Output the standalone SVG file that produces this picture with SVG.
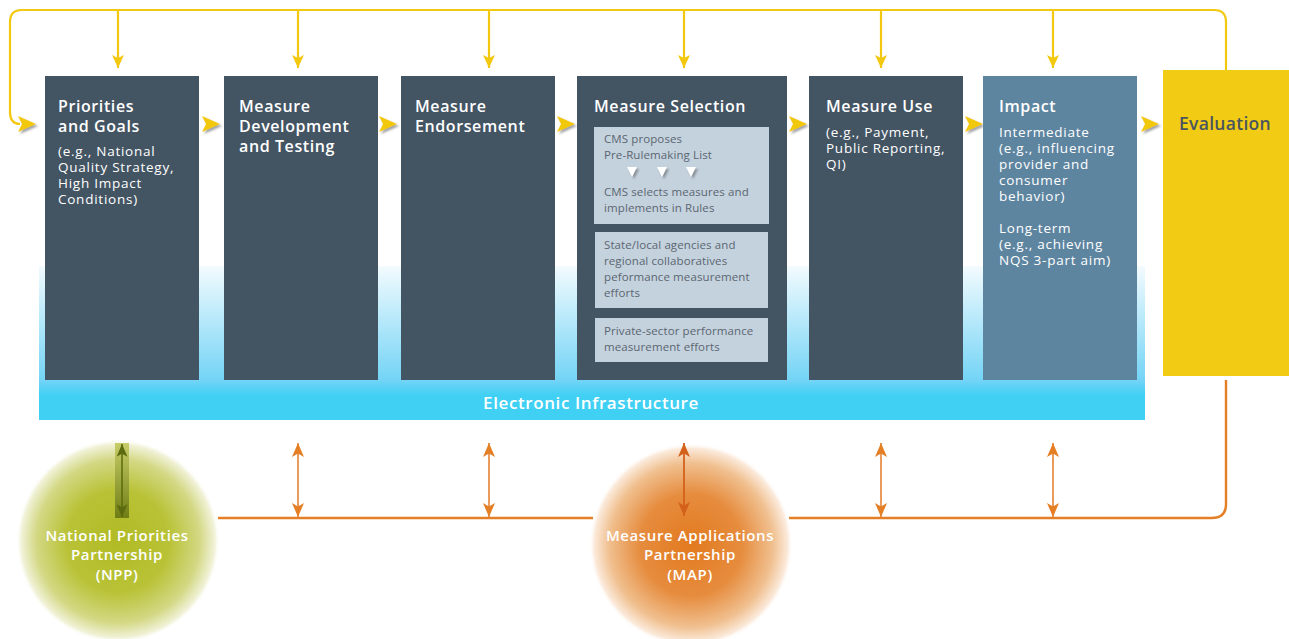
<svg xmlns="http://www.w3.org/2000/svg" width="1289" height="639" viewBox="0 0 1289 639">
  <defs>
    <style>
      text { font-family: "Open Sans", "Liberation Sans", sans-serif; }
      .box { fill: #435463; }
      .title { fill: #ffffff; font-size: 16px; font-weight: 600; letter-spacing: 0.6px; }
      .body { fill: #ffffff; font-size: 13.5px; letter-spacing: 0.75px; }
      .sub { fill: #c4d2de; }
      .subtxt { fill: #5b6670; font-size: 11.5px; letter-spacing: 0.1px; }
      .yline { fill: none; stroke: #f2c811; stroke-width: 2.2; }
      .oline { fill: none; stroke: #e47f25; stroke-width: 2.4; }
      .odbl { stroke: #e8914a; stroke-width: 1.8; marker-start: url(#oHead); marker-end: url(#oHead); }
      .chev { fill: #f2c811; filter: url(#shadow); }
      .ptxt { fill: #ffffff; font-size: 15px; font-weight: 600; letter-spacing: 0.6px; text-anchor: middle; }
    </style>
    <!-- arrowheads drawn pointing along +x so orient="auto" follows the line -->
    <marker id="yHead" viewBox="0 0 13 12" refX="13" refY="6" markerWidth="13" markerHeight="12" markerUnits="userSpaceOnUse" orient="auto">
      <path d="M0,0 L13,6 L0,12 L3,6 Z" fill="#f2c811"/>
    </marker>
    <marker id="oHead" viewBox="0 0 14 12" refX="14" refY="6" markerWidth="14" markerHeight="12" markerUnits="userSpaceOnUse" orient="auto-start-reverse">
      <path d="M0,0 L14,6 L0,12 L3.5,6 Z" fill="#e47f25"/>
    </marker>
    <marker id="mHead" viewBox="0 0 14 12" refX="14" refY="6" markerWidth="14" markerHeight="12" markerUnits="userSpaceOnUse" orient="auto-start-reverse">
      <path d="M0,0 L14,6 L0,12 L3.5,6 Z" fill="#d4611a"/>
    </marker>
    <marker id="gHead" viewBox="0 0 14 12" refX="14" refY="6" markerWidth="13" markerHeight="11" markerUnits="userSpaceOnUse" orient="auto-start-reverse">
      <path d="M0,0 L14,6 L0,12 L3.5,6 Z" fill="#5b6a0e"/>
    </marker>
    <filter id="shadow" x="-30%" y="-30%" width="170%" height="170%">
      <feDropShadow dx="2" dy="2" stdDeviation="1.2" flood-color="#555" flood-opacity="0.55"/>
    </filter>
    <linearGradient id="infra" x1="0" y1="266" x2="0" y2="420" gradientUnits="userSpaceOnUse">
      <stop offset="0" stop-color="#f3fbfe"/>
      <stop offset="0.74" stop-color="#74d4f6"/>
      <stop offset="0.84" stop-color="#40d0f4"/>
      <stop offset="1" stop-color="#40d0f4"/>
    </linearGradient>
    <radialGradient id="nppGrad" cx="0.5" cy="0.5" r="0.5">
      <stop offset="0" stop-color="#b0bb25"/>
      <stop offset="0.5" stop-color="#b9c236"/>
      <stop offset="0.8" stop-color="#d3d884"/>
      <stop offset="0.95" stop-color="#f1f2d8"/>
      <stop offset="1" stop-color="#ffffff" stop-opacity="0"/>
    </radialGradient>
    <radialGradient id="mapGrad" cx="0.5" cy="0.5" r="0.5">
      <stop offset="0" stop-color="#e27a1e"/>
      <stop offset="0.5" stop-color="#e68c3e"/>
      <stop offset="0.8" stop-color="#f0bf8e"/>
      <stop offset="0.95" stop-color="#fbeadb"/>
      <stop offset="1" stop-color="#ffffff" stop-opacity="0"/>
    </radialGradient>
    <linearGradient id="nppBar" x1="0" y1="0" x2="0" y2="1">
      <stop offset="0" stop-color="#c7cd68"/>
      <stop offset="1" stop-color="#6f7d14"/>
    </linearGradient>
  </defs>

  <!-- infrastructure band behind the process boxes -->
  <g id="infrastructure">
    <rect x="39" y="266" width="1106" height="154" fill="url(#infra)"/>
    <text x="591" y="409" fill="#ffffff" font-size="17" font-weight="600" letter-spacing="0.6" text-anchor="middle">Electronic Infrastructure</text>
  </g>

  <!-- partnership circles -->
  <g id="npp">
    <circle cx="118" cy="541" r="102" fill="url(#nppGrad)"/>
    <text class="ptxt" x="117" y="541">National Priorities</text>
    <text class="ptxt" x="117" y="560">Partnership</text>
    <text class="ptxt" x="117" y="580">(NPP)</text>
  </g>
  <g id="map">
    <circle cx="691" cy="545" r="102" fill="url(#mapGrad)"/>
    <text class="ptxt" x="690" y="541">Measure Applications</text>
    <text class="ptxt" x="690" y="560">Partnership</text>
    <text class="ptxt" x="690" y="580">(MAP)</text>
  </g>

  <!-- connectors -->
  <g id="connectors">
    <!-- yellow feedback loop -->
    <path class="yline" d="M1226,70 V22 Q1226,10 1214,10 H22 Q10,10 10,22 V112 Q10,124 20,124"/>
    <line class="yline" x1="118" y1="10" x2="118" y2="68" marker-end="url(#yHead)"/>
    <line class="yline" x1="298" y1="10" x2="298" y2="68" marker-end="url(#yHead)"/>
    <line class="yline" x1="489" y1="10" x2="489" y2="68" marker-end="url(#yHead)"/>
    <line class="yline" x1="684" y1="10" x2="684" y2="68" marker-end="url(#yHead)"/>
    <line class="yline" x1="881" y1="10" x2="881" y2="68" marker-end="url(#yHead)"/>
    <line class="yline" x1="1053" y1="10" x2="1053" y2="68" marker-end="url(#yHead)"/>
    <!-- chevrons between stages -->
    <path class="chev" d="M18,116 L36,124 L18,132 L22,124 Z"/>
    <path class="chev" d="M202,116 L220,124 L202,132 L206,124 Z"/>
    <path class="chev" d="M379,116 L397,124 L379,132 L383,124 Z"/>
    <path class="chev" d="M557,116 L575,124 L557,132 L561,124 Z"/>
    <path class="chev" d="M789,116 L807,124 L789,132 L793,124 Z"/>
    <path class="chev" d="M965,116 L983,124 L965,132 L969,124 Z"/>
    <path class="chev" d="M1141,116 L1159,124 L1141,132 L1145,124 Z"/>
    <!-- orange partnership line -->
    <path class="oline" d="M218,518 H593"/>
    <path class="oline" d="M789,518 H1212 Q1226,518 1226,504 V380"/>
    <line class="odbl" x1="298" y1="443" x2="298" y2="517"/>
    <line class="odbl" x1="489" y1="443" x2="489" y2="517"/>
    <line class="odbl" x1="881" y1="443" x2="881" y2="517"/>
    <line class="odbl" x1="1053" y1="443" x2="1053" y2="517"/>
    <line x1="684" y1="443" x2="684" y2="516" stroke="#d4611a" stroke-width="1.8" marker-start="url(#mHead)" marker-end="url(#mHead)"/>
    <!-- NPP link -->
    <rect x="115" y="443" width="14" height="75" fill="url(#nppBar)"/>
    <line x1="122" y1="444" x2="122" y2="517" stroke="#5b6a0e" stroke-width="1.5" marker-start="url(#gHead)" marker-end="url(#gHead)"/>
  </g>

  <!-- process stages -->
  <g id="priorities">
    <rect class="box" x="45" y="76" width="154" height="304"/>
    <text class="title" x="58" y="112">Priorities</text>
    <text class="title" x="58" y="132">and Goals</text>
    <text class="body" x="58" y="156">(e.g., National</text>
    <text class="body" x="58" y="172">Quality Strategy,</text>
    <text class="body" x="58" y="188">High Impact</text>
    <text class="body" x="58" y="204">Conditions)</text>
  </g>
  <g id="development">
    <rect class="box" x="224" y="76" width="154" height="304"/>
    <text class="title" x="239" y="112">Measure</text>
    <text class="title" x="239" y="132">Development</text>
    <text class="title" x="239" y="152">and Testing</text>
  </g>
  <g id="endorsement">
    <rect class="box" x="401" y="76" width="154" height="304"/>
    <text class="title" x="415" y="112">Measure</text>
    <text class="title" x="415" y="132">Endorsement</text>
  </g>
  <g id="selection">
    <rect class="box" x="577" y="76" width="210" height="304"/>
    <text class="title" x="594" y="112">Measure Selection</text>
    <rect class="sub" x="594" y="127" width="175" height="97"/>
    <text class="subtxt" x="604" y="143">CMS proposes</text>
    <text class="subtxt" x="604" y="159">Pre-Rulemaking List</text>
    <g fill="#ffffff" filter="url(#shadow)">
      <path d="M627,167 L637,167 L632,177 Z"/>
      <path d="M657,167 L667,167 L662,177 Z"/>
      <path d="M686,167 L696,167 L691,177 Z"/>
    </g>
    <text class="subtxt" x="604" y="196">CMS selects measures and</text>
    <text class="subtxt" x="604" y="212">implements in Rules</text>
    <rect class="sub" x="595" y="232" width="173" height="76"/>
    <text class="subtxt" x="604" y="249">State/local agencies and</text>
    <text class="subtxt" x="604" y="265">regional collaboratives</text>
    <text class="subtxt" x="604" y="281">peformance measurement</text>
    <text class="subtxt" x="604" y="297">efforts</text>
    <rect class="sub" x="595" y="318" width="173" height="44"/>
    <text class="subtxt" x="604" y="335">Private-sector performance</text>
    <text class="subtxt" x="604" y="351">measurement efforts</text>
  </g>
  <g id="use">
    <rect class="box" x="809" y="76" width="154" height="304"/>
    <text class="title" x="826" y="112">Measure Use</text>
    <text class="body" x="826" y="137">(e.g., Payment,</text>
    <text class="body" x="826" y="153">Public Reporting,</text>
    <text class="body" x="826" y="169">QI)</text>
  </g>
  <g id="impact">
    <rect x="983" y="76" width="154" height="304" fill="#5e859f"/>
    <text class="title" x="999" y="112">Impact</text>
    <text class="body" x="999" y="137">Intermediate</text>
    <text class="body" x="999" y="153">(e.g., influencing</text>
    <text class="body" x="999" y="169">provider and</text>
    <text class="body" x="999" y="185">consumer</text>
    <text class="body" x="999" y="201">behavior)</text>
    <text class="body" x="999" y="233">Long-term</text>
    <text class="body" x="999" y="249">(e.g., achieving</text>
    <text class="body" x="999" y="265">NQS 3-part aim)</text>
  </g>
  <g id="evaluation">
    <rect x="1163" y="70" width="126" height="306" fill="#f2cb14"/>
    <text x="1179" y="130" fill="#4a5560" font-size="17.5" font-weight="600" letter-spacing="0.3">Evaluation</text>
  </g>
</svg>
